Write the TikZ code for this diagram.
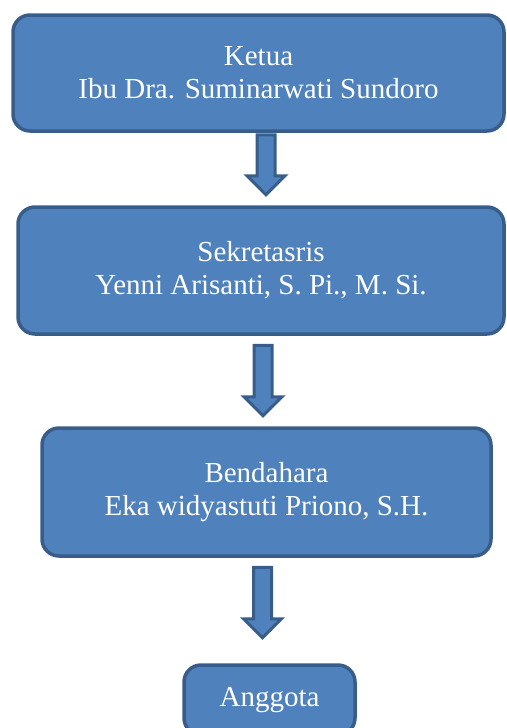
\documentclass[tikz,border=0pt]{standalone}
\usepackage{fontspec}
\setmainfont{Liberation Serif}
\usetikzlibrary{positioning}

\definecolor{isi}{HTML}{4F81BD}
\definecolor{garis}{HTML}{385D8A}

\tikzset{
  kotak/.style={rectangle,rounded corners=17pt,draw=garis,fill=isi,
    line width=3.5pt,text=white,align=center,
    font=\fontsize{29}{33}\selectfont},
  panah/.style={draw=garis,fill=isi,line width=3pt,line join=miter}
}

% block arrow: start point, length
\newcommand{\blokpanah}[2]{%
  \draw[panah] (#1) ++(-9,0) -- ++(0,{#2-19}) -- ++(-10,0) -- ++(19,19)
    -- ++(19,-19) -- ++(-10,0) -- ++(0,{-(#2-19)}) -- cycle;}

\begin{document}
\begin{tikzpicture}[x=1pt,y=-1pt]
  \useasboundingbox (0,0) rectangle (506,728);

  \node[kotak,minimum width=491pt,minimum height=116pt] (ketua) at (258.5,73)
    {Ketua\\Ibu Dra. Suminarwati Sundoro};
  \node[kotak,minimum width=486pt,minimum height=127pt] (sekretaris) at (261,270.5)
    {Sekretasris\\Yenni Arisanti, S. Pi., M. Si.};
  \node[kotak,minimum width=449pt,minimum height=128pt] (bendahara) at (266.5,492)
    {Bendahara\\Eka widyastuti Priono, S.H.};
  \node[kotak,minimum width=171pt,minimum height=70pt] (anggota) at (269.5,700)
    {Anggota};

  \blokpanah{[xshift=7.5pt,yshift=-2pt]ketua.south}{60}
  \blokpanah{[xshift=2pt,yshift=-9.5pt]sekretaris.south}{70.5}
  \blokpanah{[xshift=-4pt,yshift=-9.5pt]bendahara.south}{70.5}

\end{tikzpicture}
\end{document}
